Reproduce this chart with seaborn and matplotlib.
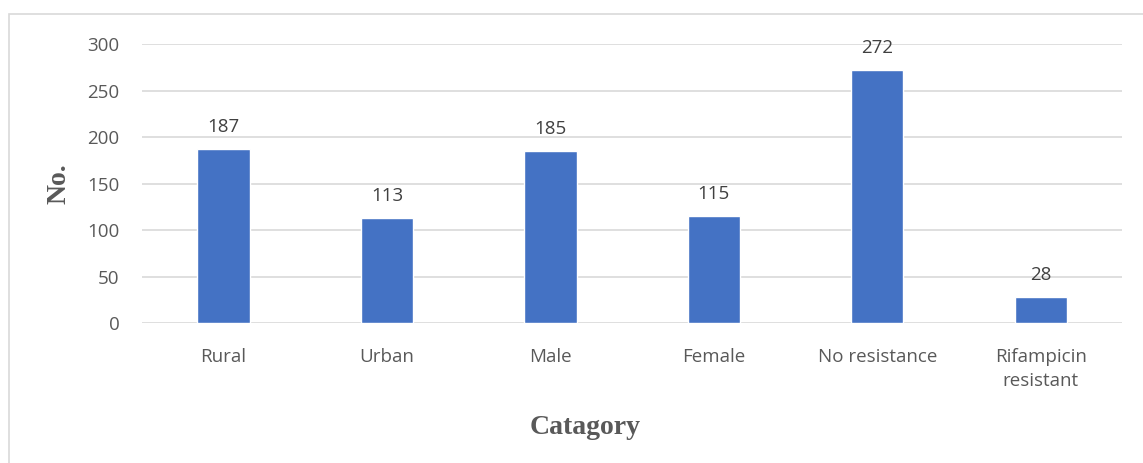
import pandas as pd
import matplotlib.pyplot as plt
import seaborn as sns

categories = ["Rural", "Urban", "Male", "Female", "No resistance", "Rifampicin\nresistant"]
counts = [187, 113, 185, 115, 272, 28]

sns.set_theme(style="white")
plt.rcParams['font.family'] = ['Open Sans', 'DejaVu Sans']

df = pd.DataFrame({"category": categories, "count": counts})

fig = plt.figure(figsize=(11.43, 4.63), dpi=100)
ax = fig.add_axes([0.124, 0.302, 0.858, 0.603])

sns.barplot(x="category", y="count", data=df, color="#4472C4", width=0.32,
            saturation=1, ax=ax, zorder=3)

for i, v in enumerate(counts):
    ax.text(i, v + 14, str(v), ha="center", va="bottom", fontsize=13.5, color="#404040")

ax.set_ylim(0, 300)
ax.set_yticks(range(0, 301, 50))
ax.yaxis.grid(True, color="#d9d9d9", linewidth=1.2, zorder=0)
for s in ax.spines.values():
    s.set_visible(False)
ax.tick_params(axis="both", length=0, labelsize=13.5, colors="#595959", pad=16)
ax.tick_params(axis="x", pad=18)
for lbl in ax.get_xticklabels():
    lbl.set_linespacing(1.45)

ax.set_xlabel("Catagory", fontsize=20, fontweight="bold", family="Liberation Serif",
              color="#595959")
ax.xaxis.set_label_coords(0.452, -0.33)
ax.set_ylabel("No.", fontsize=20, fontweight="bold", family="Liberation Serif",
              color="#595959")
ax.yaxis.set_label_coords(-0.072, 0.5)

# outer chart border
fig.patches.append(plt.Rectangle((0.008, -0.01), 1.0, 0.98, transform=fig.transFigure,
                                 fill=False, edgecolor="#d9d9d9", linewidth=1.2))

fig.savefig("out.png", dpi=100)
